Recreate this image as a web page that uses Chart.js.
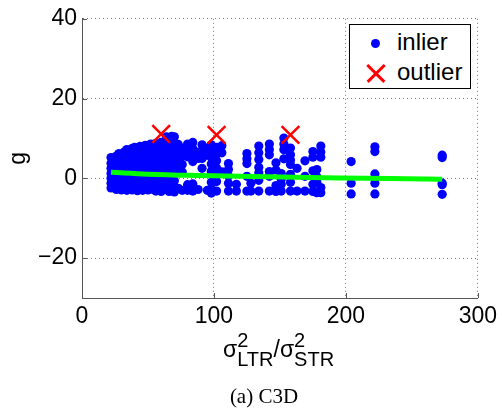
<!DOCTYPE html>
<html>
<head>
<meta charset="utf-8">
<script src="https://cdn.jsdelivr.net/npm/chart.js@4/dist/chart.umd.min.js"></script>
<style>
  body { margin: 0; background: #fff; }
  #wrap { position: relative; width: 502px; height: 413px; overflow: hidden; }
  #chart { position: absolute; left: 0; top: 0; }
  #legend {
    position: absolute; left: 349px; top: 24px; width: 120px; height: 63px;
    border: 1px solid #000; background: #fff;
    font-family: "Liberation Sans", Arial, sans-serif; font-size: 24px; color: #000;
  }
  .row { position: absolute; left: 0; height: 30px; width: 100%; }
  .row span.t { position: absolute; left: 47px; top: 1px; line-height: 26px; }
  .dot { position: absolute; left: 21px; top: 11px; width: 9px; height: 9px; border-radius: 50%; background: #0000ff; }
  .xm { position: absolute; left: 14px; top: 14px; width: 24px; height: 2.5px; background: #ff0000; }
  #xlab {
    position: absolute; left: 223px; top: 336px; white-space: nowrap;
    font-family: "Liberation Sans", Arial, sans-serif; font-size: 23px; color: #000;
  }
  .st { position: relative; display: inline-block; font-size: 20px; top: 9px; }
  .st .sp { position: absolute; left: 0; top: -19px; }
  #cap {
    position: absolute; left: 0; width: 502px; top: 384px; text-align: center; padding-left: 26px; box-sizing: border-box;
    font-family: "Liberation Serif", "Times New Roman", serif; font-size: 21px; color: #000;
  }
</style>
</head>
<body>
<div id="wrap">
  <canvas id="chart" width="502" height="413"></canvas>
  <div id="legend">
    <div class="row" style="top:3px"><div class="dot"></div><span class="t">inlier</span></div>
    <div class="row" style="top:33px">
      <div class="xm" style="transform:rotate(45deg)"></div>
      <div class="xm" style="transform:rotate(-45deg)"></div>
      <span class="t">outlier</span>
    </div>
  </div>
  <div id="xlab">σ<span class="st"><span class="sp">2</span>LTR</span>/σ<span class="st"><span class="sp">2</span>STR</span></div>
  <div id="cap">(a) C3D</div>
</div>
<script>
// x positions of the inlier columns and the g values read at each of them
let colX = [22, 24, 26, 28, 30, 32, 34, 36, 38, 40, 42, 44, 46, 48, 50, 52, 54, 56, 58, 60,
            62, 64, 66, 68, 70, 73, 76, 80, 84, 88, 91, 95, 98, 102, 106, 111, 117,
            125, 128, 134, 142, 147, 151, 153, 158, 163, 169, 175, 178, 181, 204, 222, 273];
let colG = [
  [5.2, 3.8, 2.5, 1.2, 0, -1.2, -2.4],
  [4.5, 3, 1.6, 0.3, -1, -2.2],
  [5.6, 4.2, 2.8, 1.4, -0.4, -1.8, -2.8],
  [6.2, 4.8, 3.4, 2, 0.6, -0.8, -2.5],
  [5.8, 4.4, 3, 1.5, 0.2, -1.4, -2.9],
  [6.6, 5.1, 3.7, 2.3, 0.9, -0.6, -2],
  [7.2, 5.7, 4.2, 2.8, 1.3, -0.2, -1.6, -3],
  [6.4, 5, 3.5, 2.1, 0.6, -1, -2.6],
  [7.5, 6, 4.6, 3.2, 1.8, 0.2, -1.3, -2.9],
  [7.8, 6.3, 4.8, 3.3, 1.9, 0.4, -1, -2.5],
  [7.1, 5.6, 4.1, 2.6, 1.1, -0.5, -2, -3.1],
  [8, 6.5, 5, 3.5, 2, 0.5, -1.1, -2.7],
  [7.6, 6.1, 4.6, 3.1, 1.6, 0, -1.6, -3],
  [8.3, 6.8, 5.3, 3.8, 2.2, 0.8, -0.8, -2.3],
  [7.9, 6.4, 4.9, 3.4, 1.9, 0.3, -1.3, -2.9],
  [8.6, 7.1, 5.6, 4, 2.5, 1, -0.5, -2.1],
  [8.1, 6.6, 5.1, 3.6, 2, 0.4, -1.2, -2.8],
  [8.8, 7.3, 5.8, 4.3, 2.8, 1.2, -0.3, -1.9, -3.2],
  [8.4, 6.9, 5.4, 3.9, 2.3, 0.7, -1, -2.6],
  [9, 7.5, 6, 4.5, 3, 1.4, -0.2, -1.8, -3.3],
  [8.2, 6.7, 5.2, 3.6, 2, 0.5, -1.2, -2.8],
  [10.4, 8.8, 7.2, 5.6, 4, 2.5, 0.9, -0.8, -2.4],
  [9.2, 7.7, 6.2, 4.6, 3, 1.5, -0.1, -1.7, -3.3],
  [10.5, 8.6, 7, 5.4, 3.8, 2.2, 0.6, -1, -2.6],
  [10.4, 8.3, 6.4, 4.8, 2.9, 1.2, -0.6, -2.2, -3.4],
  [8.5, 6.6, 4.5, 2.2, -2.5],
  [7.4, 5.6, 3.5, 1.6, -3],
  [8.6, 7, 5.4, -1.6, -3],
  [9, 7.4, 5.9, 4.2, -1.4, -3.2],
  [6.6, 5, -2.8],
  [8.4, 6.7, 5, 2.5],
  [7.6, 5.8, -3],
  [8.4, 6.8, 5.2, 3.6, 1.8, -1, -2.6, -3.7],
  [7.8, 6.1, 4.4, 2.6, 0.9, -0.8, -3.2],
  [8.2, 6.4, 1.6],
  [3.7, 2.2, 0.6, -1.2, -3.2],
  [-1.5, -3.2],
  [6.2, 4.9, 3.7, 0.5, -3.2],
  [-1.2, -3.2],
  [8.1, 6.4, 4.7, 2.8, 1.4, -0.5, -3.2],
  [8.6, 7.2, 5.9, 1.7, 0.5, -3.2],
  [3.9, 2.1, -1.8, -3.3],
  [1.2, -0.2, -1.5, -3.2],
  [10.1, 8.6, 7.2, 4.9],
  [7.6, 5.9, 4.6, 3.5, 1, -1, -3.2],
  [2.5, -3.2],
  [4.4, 0.5, -3.2],
  [6.7, 5.3, 1.9, -1.5, -3.3],
  [2.2, 0.4, -1, -3.6],
  [8.1, 6.6, 5.3, -2.3, -3.6],
  [4.2, -1.2, -3.9],
  [7.9, 6.7, 1.1, -0.1, -1.2, -3.9],
  [5.8, 5.2, -1.2, -1.6, -4]
];

let outlierX = [60, 102, 158];
let outlierG = [11.1, 10.9, 10.9];

// fitted curve
let fitX = [22, 50, 90, 130, 195, 273];
let fitG = [1.5, 1.05, 0.7, 0.45, 0.1, -0.2];

let xTicks = [0, 100, 200, 300];
let yTicks = [-20, 0, 20, 40];

let inliers = [];
colX.forEach((x, i) => {
    colG[i].forEach(g => inliers.push({ x: x, y: g }));
});
let outliers = outlierX.map((x, i) => ({ x: x, y: outlierG[i] }));
let fit = fitX.map((x, i) => ({ x: x, y: fitG[i] }));

const axisColor = "#555";

// matlab style ticks pointing inwards
const innerTicks = {
    id: "innerTicks",
    afterDraw(chart) {
        let ctx = chart.ctx;
        let a = chart.chartArea;
        let xs = chart.scales.x, ys = chart.scales.y;
        ctx.save();
        ctx.strokeStyle = axisColor;
        ctx.lineWidth = 1;
        ctx.beginPath();
        xTicks.forEach(t => {
            let px = Math.round(xs.getPixelForValue(t)) + 0.5;
            ctx.moveTo(px, a.bottom); ctx.lineTo(px, a.bottom - 5);
        });
        yTicks.forEach(t => {
            let py = Math.round(ys.getPixelForValue(t)) + 0.5;
            ctx.moveTo(a.left, py); ctx.lineTo(a.left + 5, py);
        });
        ctx.stroke();
        ctx.restore();
    }
};

const tickFont = { family: "'Liberation Sans', Arial, sans-serif", size: 23 };

new Chart(document.getElementById("chart"), {
    type: "scatter",
    data: {
        datasets: [
            {
                label: "outlier",
                data: outliers,
                pointStyle: "crossRot",
                pointRadius: 12.5,
                borderColor: "#ff0000",
                borderWidth: 2.5,
                order: 1
            },
            {
                label: "fit",
                data: fit,
                showLine: true,
                borderColor: "#00ff00",
                borderWidth: 5,
                pointRadius: 0,
                tension: 0.4,
                order: 2
            },
            {
                label: "inlier",
                data: inliers,
                pointRadius: 4.6,
                pointBorderWidth: 0,
                backgroundColor: "#0000ff",
                borderColor: "#0000ff",
                order: 3
            }
        ]
    },
    options: {
        responsive: false,
        animation: false,
        events: [],
        devicePixelRatio: 1,
        layout: { padding: { left: 0, top: 15, right: 22, bottom: 0 } },
        plugins: { legend: { display: false }, tooltip: { enabled: false } },
        scales: {
            x: {
                type: "linear",
                min: 0, max: 300,
                afterBuildTicks: s => { s.ticks = xTicks.map(v => ({ value: v })); },
                afterFit: s => { s.height = 115; },
                ticks: { color: "#000", font: tickFont, padding: 5, maxRotation: 0 },
                grid: { color: "#777", lineWidth: 1, drawTicks: false },
                border: { display: true, color: axisColor, width: 1, dash: [1, 3] }
            },
            y: {
                type: "linear",
                min: -30, max: 40,
                afterBuildTicks: s => { s.ticks = yTicks.map(v => ({ value: v })); },
                afterFit: s => { s.width = 82; },
                ticks: {
                    color: "#000", font: tickFont, padding: 5,
                    callback: v => String(v).replace("-", "\u2212")
                },
                grid: { color: "#777", lineWidth: 1, drawTicks: false },
                border: { display: true, color: axisColor, width: 1, dash: [1, 3] },
                title: { display: true, text: "g", color: "#000", font: tickFont, padding: { top: 5, bottom: 0 } }
            }
        }
    },
    plugins: [innerTicks]
});
</script>
</body>
</html>
